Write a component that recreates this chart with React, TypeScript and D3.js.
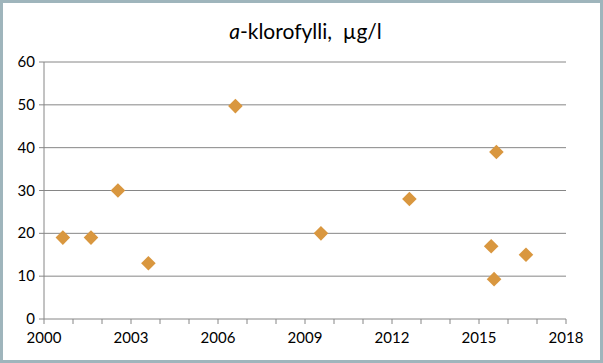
import React from "react";
import * as d3 from "d3";

type TPoint = {
  year: number;
  value: number;
};

const years = [2000.65, 2001.62, 2002.55, 2003.6, 2006.6, 2009.55, 2012.6, 2015.42, 2015.6, 2015.52, 2016.62];
const values = [19, 19, 30, 13, 49.7, 20, 28, 17, 39, 9.3, 15];
const yTicks = [0, 10, 20, 30, 40, 50, 60];
const xTicks = [2000, 2003, 2006, 2009, 2012, 2015, 2018];

const data: TPoint[] = years.map((year, i) => ({ year, value: values[i] }));

const width = 603;
const height = 363;
const font = "Lato, sans-serif";

const x = d3.scaleLinear().domain([2000, 2018]).range([44, 566]);
const y = d3.scaleLinear().domain([0, 60]).range([319, 62]);

// symbolDiamond2 is already a square stood on its corner
const diamond = d3.symbol().type(d3.symbolDiamond2).size(136);

const App = () => {
  const minorTicks = d3.range(2000, 2019);
  return (
    <svg
      width={width}
      height={height}
      style={{ position: "absolute", left: 0, top: 0 }}
    >
      <rect x={0} y={0} width={width} height={height} fill="white" />
      <rect
        x={1.5}
        y={1.5}
        width={width - 3}
        height={height - 3}
        fill="none"
        stroke="#9fb5bc"
        strokeWidth={3}
      />
      <text
        x={width / 2 + 4}
        y={39}
        textAnchor="middle"
        fontFamily={font}
        fontSize={21}
        fill="#000"
        style={{ whiteSpace: "pre" }}
      >
        <tspan fontStyle="italic">a</tspan>-klorofylli,{"  "}µg/l
      </text>
      {/* gridlines */}
      {yTicks.slice(1).map((t) => (
        <line
          key={t}
          x1={x(2000) - 5}
          x2={x(2018)}
          y1={y(t)}
          y2={y(t)}
          stroke="#868686"
          strokeWidth={1}
        />
      ))}
      {/* axes */}
      <line x1={x(2000)} x2={x(2000)} y1={y(60)} y2={y(0)} stroke="#868686" />
      <line x1={x(2000) - 5} x2={x(2018)} y1={y(0)} y2={y(0)} stroke="#868686" />
      {yTicks.map((t) => (
        <text
          key={t}
          x={x(2000) - 9}
          y={y(t) + 5}
          textAnchor="end"
          fontFamily={font}
          fontSize={15}
          fill="#000"
        >
          {t}
        </text>
      ))}
      {minorTicks.map((t) => (
        <line
          key={t}
          x1={x(t)}
          x2={x(t)}
          y1={y(0)}
          y2={y(0) + 5}
          stroke="#868686"
        />
      ))}
      {xTicks.map((t) => (
        <text
          key={t}
          x={x(t)}
          y={y(0) + 24}
          textAnchor="middle"
          fontFamily={font}
          fontSize={15}
          fill="#000"
        >
          {t}
        </text>
      ))}
      {data.map((d, i) => (
        <path
          key={i}
          d={diamond() || ""}
          transform={`translate(${x(d.year)}, ${y(d.value)})`}
          fill="#d9973f"
        />
      ))}
    </svg>
  );
};

export default App;
